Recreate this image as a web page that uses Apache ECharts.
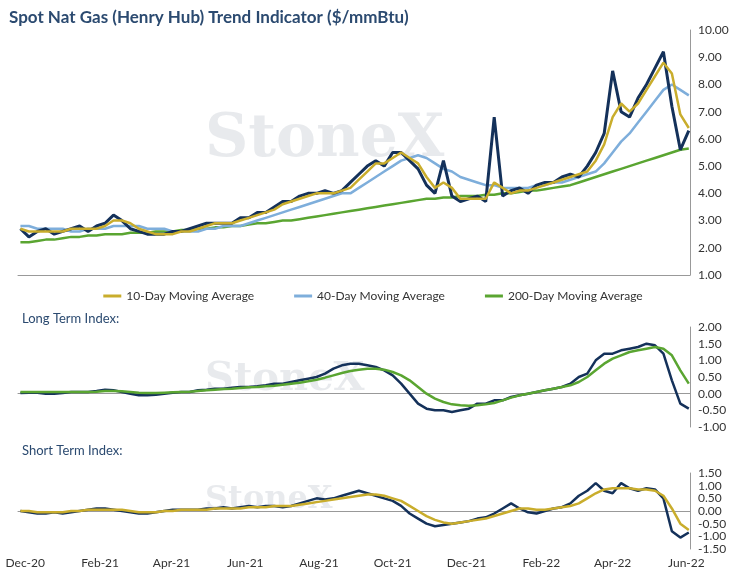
<!DOCTYPE html>
<html><head><meta charset="utf-8">
<script src="https://cdn.jsdelivr.net/npm/echarts@6/dist/echarts.min.js"></script>
<style>html,body{margin:0;padding:0;background:#fff}#c{width:746px;height:577px}</style>
</head><body><div id="c"></div>
<script>
const startDate = '2020-11-27';
const spot = [2.7,2.4,2.6,2.7,2.5,2.6,2.7,2.8,2.6,2.8, 2.9,3.2,3.0,2.7,2.6,2.5,2.5,2.5,2.6,2.6, 2.7,2.8,2.9,2.9,2.9,2.9,3.1,3.1,3.3,3.3, 3.5,3.7,3.7,3.9,4.0,4.0,4.1,4.0,4.1,4.4, 4.7,5.0,5.2,5.0,5.5,5.5,5.2,4.9,4.3,4.0, 5.2,3.9,3.7,3.8,3.9,3.7,6.8,3.9,4.1,4.2, 4.0,4.3,4.4,4.4,4.6,4.7,4.6,5.0,5.5,6.2, 8.5,7.0,6.8,7.5,8.0,8.6,9.2,7.2,5.6,6.3];
const ma10 = [2.7,2.6,2.6,2.6,2.6,2.6,2.7,2.7,2.7,2.7, 2.8,3.0,3.0,2.9,2.7,2.6,2.5,2.5,2.5,2.6, 2.6,2.7,2.8,2.9,2.9,2.9,3.0,3.1,3.2,3.3, 3.4,3.6,3.7,3.8,3.9,4.0,4.0,4.0,4.1,4.2, 4.5,4.8,5.1,5.1,5.3,5.5,5.3,5.1,4.6,4.2, 4.4,4.2,3.8,3.8,3.8,3.8,4.4,4.2,4.0,4.1, 4.1,4.2,4.3,4.4,4.5,4.6,4.7,4.8,5.2,5.8, 6.8,7.3,7.0,7.3,7.8,8.3,8.8,8.4,6.9,6.4];
const ma40 = [2.8,2.8,2.7,2.7,2.7,2.7,2.6,2.6,2.7,2.7, 2.7,2.8,2.8,2.8,2.8,2.7,2.7,2.7,2.6,2.6, 2.6,2.6,2.7,2.7,2.8,2.8,2.8,2.9,3.0,3.1, 3.2,3.3,3.4,3.5,3.6,3.7,3.8,3.9,4.0,4.0, 4.2,4.4,4.6,4.8,5.0,5.2,5.3,5.4,5.3,5.1, 4.9,4.8,4.6,4.5,4.4,4.3,4.3,4.2,4.2,4.2, 4.2,4.3,4.3,4.4,4.4,4.5,4.6,4.7,4.8,5.1, 5.5,5.9,6.2,6.6,7.0,7.4,7.8,8.0,7.8,7.6];
const ma200 = [2.2,2.2,2.25,2.3,2.3,2.35,2.4,2.4,2.45,2.45, 2.5,2.5,2.5,2.55,2.55,2.55,2.6,2.6,2.6,2.65, 2.65,2.7,2.7,2.75,2.75,2.8,2.8,2.85,2.9,2.9, 2.95,3.0,3.0,3.05,3.1,3.15,3.2,3.25,3.3,3.35, 3.4,3.45,3.5,3.55,3.6,3.65,3.7,3.75,3.8,3.8, 3.85,3.85,3.9,3.9,3.9,3.95,3.95,4.0,4.0,4.05, 4.1,4.1,4.15,4.2,4.25,4.3,4.4,4.5,4.6,4.7, 4.8,4.9,5.0,5.1,5.2,5.3,5.4,5.5,5.6,5.65];
const ltIndex = [0.02,0.03,0.03,0.0,0.0,0.02,0.05,0.05,0.05,0.08, 0.12,0.1,0.05,0.0,-0.05,-0.05,-0.03,0.0,0.03,0.05, 0.05,0.1,0.12,0.15,0.15,0.18,0.2,0.2,0.22,0.25, 0.3,0.3,0.35,0.4,0.45,0.5,0.6,0.75,0.85,0.9, 0.9,0.85,0.8,0.7,0.55,0.3,0.0,-0.3,-0.45,-0.5, -0.5,-0.55,-0.5,-0.45,-0.3,-0.3,-0.2,-0.2,-0.1,-0.05, 0.0,0.05,0.1,0.15,0.2,0.3,0.5,0.6,1.0,1.2, 1.2,1.3,1.35,1.4,1.5,1.45,1.2,0.4,-0.3,-0.45];
const ltAvg = [0.05,0.05,0.05,0.05,0.05,0.05,0.05,0.05,0.05,0.06, 0.08,0.08,0.07,0.05,0.03,0.02,0.02,0.03,0.04,0.05, 0.06,0.08,0.1,0.12,0.14,0.15,0.17,0.19,0.2,0.22, 0.24,0.27,0.3,0.33,0.37,0.42,0.48,0.55,0.62,0.68, 0.72,0.75,0.75,0.72,0.65,0.55,0.4,0.2,0.0,-0.15, -0.25,-0.32,-0.35,-0.36,-0.35,-0.32,-0.28,-0.2,-0.12,-0.05, 0.0,0.05,0.1,0.15,0.2,0.25,0.35,0.5,0.7,0.9, 1.05,1.15,1.25,1.3,1.35,1.4,1.35,1.15,0.7,0.3];
const stIndex = [0.0,-0.05,-0.1,-0.1,-0.05,-0.1,-0.05,0.0,0.05,0.1, 0.1,0.05,0.0,-0.05,-0.1,-0.1,-0.05,0.0,0.05,0.05, 0.05,0.05,0.1,0.1,0.15,0.1,0.15,0.2,0.15,0.2, 0.2,0.15,0.2,0.3,0.4,0.5,0.45,0.5,0.6,0.7, 0.8,0.7,0.6,0.5,0.4,0.2,-0.1,-0.3,-0.5,-0.6, -0.55,-0.5,-0.45,-0.4,-0.3,-0.25,-0.1,0.1,0.3,0.1, -0.05,-0.1,0.0,0.1,0.15,0.3,0.6,0.8,1.1,0.8, 0.7,1.1,0.9,0.8,0.9,0.85,0.5,-0.8,-1.05,-0.85];
const stAvg = [0.0,0.0,-0.05,-0.05,-0.05,-0.05,0.0,0.0,0.05,0.05, 0.05,0.05,0.05,0.0,-0.05,-0.05,-0.05,0.0,0.0,0.05, 0.05,0.05,0.05,0.1,0.1,0.1,0.1,0.15,0.15,0.15, 0.2,0.2,0.2,0.25,0.3,0.35,0.4,0.45,0.5,0.55, 0.6,0.65,0.65,0.6,0.5,0.4,0.2,0.0,-0.2,-0.35, -0.45,-0.5,-0.45,-0.4,-0.35,-0.3,-0.2,-0.1,0.0,0.1, 0.1,0.05,0.05,0.1,0.15,0.2,0.3,0.5,0.7,0.85, 0.9,0.9,0.9,0.85,0.85,0.8,0.6,0.1,-0.5,-0.75];

const t0 = new Date(startDate + 'T00:00:00Z').getTime();
const dates = spot.map((_, i) => t0 + i * 7 * 86400000);
const pair = arr => arr.map((v, i) => [dates[i], v]);
const MON = ['Jan','Feb','Mar','Apr','May','Jun','Jul','Aug','Sep','Oct','Nov','Dec'];
const SHOW = {11:1, 1:1, 3:1, 5:1, 7:1, 9:1};
const NAVY = '#14315a', GOLD = '#c9ad2c', BLUE = '#7eaedb', GREEN = '#5aa531';
const xMin = Date.UTC(2020,10,25), xMax = Date.UTC(2022,5,4);
function xa(gi, show){
  return {type:'time', gridIndex:gi, min:xMin, max:xMax, splitNumber:20,
    axisLine:{show:true, lineStyle:{color:'#999'}}, axisTick:{show:false}, splitLine:{show:false},
    axisLabel:{show:show, color:'#333', fontSize:12, fontFamily:'Lato', hideOverlap:false,
      formatter: v => { const d=new Date(v); if (d.getUTCDate()!==1) return ''; const m=d.getUTCMonth(); return SHOW[m] ? MON[m]+'-'+String(d.getUTCFullYear()).slice(2) : ''; }}};
}
function ya(gi,min,max,intv){
  return {type:'value', gridIndex:gi, position:'right', min:min, max:max, interval:intv,
    axisLine:{show:true, lineStyle:{color:'#999'}}, axisTick:{show:false}, splitLine:{show:false},
    axisLabel:{color:'#333', fontSize:12, fontFamily:'Lato', formatter:v=>v.toFixed(2)}};
}
function ln(name, data, color, w, xi, z){ return {name, type:'line', data:pair(data), xAxisIndex:xi, yAxisIndex:xi, showSymbol:false, lineStyle:{color, width:w}, itemStyle:{color}, z:z||2}; }
const wm = (y,s) => ({type:'text', left:205, top:y, z:0, style:{text:'StoneX', font:'bold '+s+'px "DejaVu Serif"', fill:'rgba(150,160,175,0.22)'}});
const chart = echarts.init(document.getElementById('c'));
chart.setOption({
  animation:false,
  title:{text:'Spot Nat Gas (Henry Hub) Trend Indicator ($/mmBtu)', left:4, top:4, textStyle:{fontSize:17, fontWeight:'bold', color:'#2b4a70', fontFamily:'Lato'}},
  graphic:[wm(110,60), wm(360,40), wm(484,32),
    {type:'text', left:22, top:312, style:{text:'Long Term Index:', font:'13px Lato', fill:'#2b4a70'}},
    {type:'text', left:22, top:444, style:{text:'Short Term Index:', font:'13px Lato', fill:'#2b4a70'}}],
  legend:{top:285, left:'center', itemWidth:18, itemHeight:3, itemGap:40, icon:'rect', textStyle:{fontSize:12, color:'#333', fontFamily:'Lato'},
    data:['10-Day Moving Average','40-Day Moving Average','200-Day Moving Average']},
  grid:[{left:18,right:56,top:30,height:245},{left:18,right:56,top:327,height:100},{left:18,right:56,top:473,height:76}],
  xAxis:[xa(0,false), xa(1,false), xa(2,true)],
  yAxis:[ya(0,1,10,1), ya(1,-1,2,0.5), ya(2,-1.5,1.5,0.5)],
  series:[
    ln('200-Day Moving Average', ma200, GREEN, 2.5, 0),
    ln('40-Day Moving Average', ma40, BLUE, 2.5, 0),
    ln('Spot', spot, NAVY, 3, 0, 3),
    ln('10-Day Moving Average', ma10, GOLD, 2.5, 0, 4),
    ln('LT', ltIndex, NAVY, 2.5, 1),
    ln('LTavg', ltAvg, GREEN, 2.5, 1, 3),
    ln('ST', stIndex, NAVY, 2.5, 2),
    ln('STavg', stAvg, GOLD, 2.5, 2, 3)
  ]
});
</script></body></html>
